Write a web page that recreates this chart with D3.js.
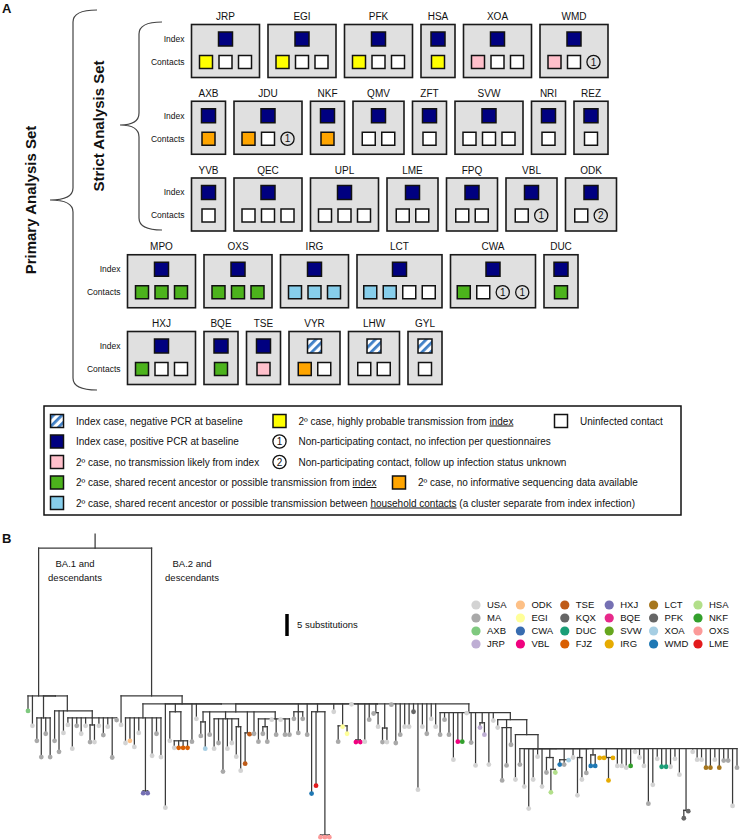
<!DOCTYPE html>
<html><head><meta charset="utf-8">
<script src="https://cdn.jsdelivr.net/npm/d3@7"></script>
<style>
body{margin:0;background:#fff}
svg{display:block}
text{font-family:"Liberation Sans",Arial,sans-serif;fill:#111}
</style>
</head><body>
<svg id="c" width="744" height="840"></svg>
<script>
// ---------------- DATA ----------------
const householdNames = ["JRP","EGI","PFK","HSA","XOA","WMD","AXB","JDU","NKF","QMV","ZFT","SVW","NRI","REZ","YVB","QEC","UPL","LME","FPQ","VBL","ODK","MPO","OXS","IRG","LCT","CWA","DUC","HXJ","BQE","TSE","VYR","LHW","GYL"];
const householdRow   = [0,0,0,0,0,0, 1,1,1,1,1,1,1,1, 2,2,2,2,2,2,2, 3,3,3,3,3,3, 4,4,4,4,4,4];
const indexPCR       = ["+","+","+","+","+","+", "+","+","+","+","+","+","+","+", "+","+","+","+","+","+","+", "+","+","+","+","+","+", "+","+","+","-","-","-"];
const contactStatus  = ["YWW","YWW","YWW","Y","PWW","PW1", "O","OW1","O","WW","W","WWW","W","W", "W","WWW","WWW","WW","WW","W1","W2", "GGG","GGG","BBB","BBWW","GW11","G", "GWW","G","P","OW","WW","W"];

const legendCodes  = ["N","Y","W","I","1","P","2","G","O","B"];
const legendLabels = [
  "Index case, negative PCR at baseline",
  "2º case, highly probable transmission from _index_",
  "Uninfected contact",
  "Index case, positive PCR at baseline",
  "Non-participating contact, no infection per questionnaires",
  "2º case, no transmission likely from index",
  "Non-participating contact, follow up infection status unknown",
  "2º case, shared recent ancestor or possible transmission from _index_",
  "2º case, no informative sequencing data available",
  "2º case, shared recent ancestor or possible transmission between _household contacts_ (a cluster separate from index infection)"
];

const lineageNames  = ["USA","MA","AXB","JRP","ODK","EGI","CWA","VBL","TSE","KQX","DUC","FJZ","HXJ","BQE","SVW","IRG","LCT","PFK","XOA","WMD","HSA","NKF","OXS","LME"];
const lineageColors = ["#d3d3d3","#a9a9a9","#7fc97f","#beaed4","#fdc086","#ffff99","#386cb0","#f0027f","#bf5b17","#666666","#1b9e77","#d95f02","#7570b3","#e7298a","#66a61e","#e6ab02","#a6761d","#666666","#a6cee3","#1f78b4","#b2df8a","#33a02c","#fb9a99","#e31a1c"];

const cladeLabels = ["BA.1 and|descendants","BA.2 and|descendants"];
const scaleBarSubs = 5;

// phylogeny (branch lengths in substitutions)
const treeNewick =
"((AXB:3.4,USA:6.8,((MA:5.2,MA:8.9,MA:3.6,MA:8.9):5,(MA:6.8,MA:9.3,USA:5,(USA:1.6,USA:7,MA:1.8,USA:3.6,USA:1.8,(MA:3.9,USA:3.9):1.6,USA:1.8,MA:3.9,USA:2,MA:9,MA:0.5):1.6):3.4):0):33.6," +
"(USA:6.6,((USA:5.7,ODK:5.2,USA:6.6,USA:3.4,(HXJ:0.5,HXJ:0.5):16.6,USA:8.6,MA:3.6,USA:8.9):3.2," +
"(USA:23.6,(USA:6.6,(USA:1.6,FJZ:1.6,FJZ:1.6,FJZ:1.6):6.6):1.8,MA:8.6,USA:3.4," +
"(((MA:3.2,XOA:6.1):2.3,MA:5.2,(USA:6.8,MA:5.5,MA:12,USA:6.8,USA:5.5,(USA:6.8,USA:10):1.8):1.6,(TSE:7,TSE:0.3):4.8,MA:5,(MA:5.2,(MA:1.6,MA:3.4):1.8,USA:0.2,MA:3.6,USA:0.2,MA:3.6,MA:3.6):1.6):1.8," +
"(MA:1.6,MA:4.8,MA:1.6):1.8,MA:7,(WMD:18.6,LME:16.8,(OXS:0.5,OXS:0.5,OXS:0.5):28):1.8,USA:1.8,(MA:3.6,EGI:0.2,EGI:1.8):5,USA:0.1,(VBL:0.5,VBL:0.5):8.2," +
"USA:8.6,MA:3.6,(MA:0.2,USA:3.2):2,(MA:3.2,USA:3.2):5.5,MA:0.2,MA:8.9,MA:7,USA:5.2,USA:5.2,KQX:1.8,USA:19.5,USA:5.2,MA:6.8,USA:3.4,USA:5.2," +
"(MA:5,MA:1.6,MA:5,USA:10.7,VBL:6.6,NKF:6.6,USA:0.1,MA:6.8,USA:12,(JRP:1.1,JRP:2.7):2.3,USA:11.8,USA:1.8," +
"(USA:1.8,(MA:12,MA:8.6,MA:3.9):1.8,(USA:10.2,(MA:3.6,(USA:8.6,(USA:13.6," +
"(USA:7,USA:1.8,USA:8.6,(MA:3.4,(HSA:5.2,HSA:0.7):2.7):2,(WMD:1.1,MA:1.1,XOA:0.1):2.5,USA:2,(USA:8.6,USA:5):2,MA:5.5,(WMD:2.5,WMD:2.5):1.4," +
"(IRG:0.1,IRG:0.1,IRG:5.2,IRG:0.1):2,USA:3.9,USA:3.9,USA:4.3,NKF:3.9,USA:0.7,USA:2,USA:3.9,MA:12.5,USA:8.2,USA:2.3,DUC:4.1,DUC:4.1,USA:4.1,USA:2.3,USA:5.9," +
"(KQX:1.8,KQX:0.2):14,USA:0.7,USA:2.5,USA:2.5,LCT:4.3,LCT:4.3,USA:2.5,LCT:4.3,MA:2.7,MA:2.7,USA:13,MA:4.3):0" +
"):0):0):3.2):3.4):1.6):2):0):0):1.8):33.6):3.2;";

// ---------------- DRAW ----------------
const svg = d3.select("#c");
const defs = svg.append("defs");
const pat = defs.append("pattern").attr("id","hatch").attr("patternUnits","userSpaceOnUse")
  .attr("width",6).attr("height",6).attr("patternTransform","rotate(-45)");
pat.append("rect").attr("width",6).attr("height",6).attr("fill","#fff");
pat.append("rect").attr("width",6).attr("height",2.8).attr("fill","#3f7fc6");

const fillFor = {Y:"#ffff00",P:"#ffc0cb",O:"#ffa500",G:"#4cb31c",B:"#87ceeb",W:"#ffffff",I:"#000080",N:"url(#hatch)"};

function marker(g, code, cx, cy, size, circleFill){
  if(code==="1"||code==="2"){
    g.append("circle").attr("cx",cx).attr("cy",cy).attr("r",6.6)
      .attr("fill",circleFill).attr("stroke","#111").attr("stroke-width",1.3);
    g.append("text").attr("x",cx).attr("y",cy).attr("dy","0.36em").attr("text-anchor","middle")
      .attr("font-size",10).text(code);
  } else {
    g.append("rect").attr("x",cx-size/2).attr("y",cy-size/2).attr("width",size).attr("height",size)
      .attr("fill",fillFor[code]).attr("stroke","#111").attr("stroke-width",1.5);
  }
}

// Panel letters
svg.append("text").attr("x",2).attr("y",13).attr("font-size",13).attr("font-weight","bold").text("A");
svg.append("text").attr("x",2).attr("y",543).attr("font-size",13).attr("font-weight","bold").text("B");

// Households
const unit = d3.scaleLinear().domain([0,1]).range([0,17]);
const rowTop = d3.scaleLinear().domain([0,4]).range([24.5,331.5]);
const rowStartX = [191.5,191.5,191.5,127.5,127.5];
const boxH = 53, boxGap = 8.5, itemStep = 19.5, sq = 13;
const gA = svg.append("g");
d3.range(5).forEach(r=>{
  const T = rowTop(r);
  gA.append("text").attr("x",rowStartX[r]-7).attr("y",T+14.5).attr("dy","0.35em")
    .attr("text-anchor","end").attr("font-size",8.5).text("Index");
  gA.append("text").attr("x",rowStartX[r]-7).attr("y",T+37.5).attr("dy","0.35em")
    .attr("text-anchor","end").attr("font-size",8.5).text("Contacts");
  let x = rowStartX[r];
  householdNames.forEach((name,i)=>{
    if(householdRow[i]!==r) return;
    const items = contactStatus[i].split("");
    const n = items.length;
    const w = unit(n+1);
    const g = gA.append("g");
    g.append("rect").attr("x",x).attr("y",T).attr("width",w).attr("height",boxH)
      .attr("fill","#e0e0e0").attr("stroke","#1a1a1a").attr("stroke-width",1.6);
    g.append("text").attr("x",x+w/2).attr("y",T-4.5).attr("text-anchor","middle")
      .attr("font-size",10).text(name);
    const cx = x+w/2;
    marker(g, indexPCR[i]==="+"?"I":"N", cx, T+14.5, 14, "none");
    items.forEach((c,k)=>{
      marker(g, c, cx+(k-(n-1)/2)*itemStep, T+37.5, sq, "none");
    });
    x += w + boxGap;
  });
});

// Braces
const braceStyle = s=>s.attr("fill","none").attr("stroke","#444").attr("stroke-width",1.2);
braceStyle(svg.append("path").attr("d","M97,10 Q73,10 73,22 L73,188 Q73,200 50,200 Q73,200 73,212 L73,378 Q73,390 97,390"));
braceStyle(svg.append("path").attr("d","M162,22 Q139,22 139,34 L139,113 Q139,125 120,125 Q139,125 139,137 L139,218 Q139,230 162,230"));
svg.append("text").attr("transform","translate(36,200) rotate(-90)").attr("text-anchor","middle")
  .attr("font-size",15).attr("font-weight","bold").text("Primary Analysis Set");
svg.append("text").attr("transform","translate(104,126) rotate(-90)").attr("text-anchor","middle")
  .attr("font-size",15).attr("font-weight","bold").text("Strict Analysis Set");

// Legend A
const legY = d3.scaleLinear().domain([0,4]).range([421,503]);
const legColX = [57,279.5,561,399];
const legSlots = [[0,0],[1,0],[2,0],[0,1],[1,1],[0,2],[1,2],[0,3],[3,3],[0,4]];
svg.append("rect").attr("x",44).attr("y",406).attr("width",637).attr("height",109)
  .attr("fill","#fff").attr("stroke","#111").attr("stroke-width",1.5);
const gL = svg.append("g");
legendCodes.forEach((code,i)=>{
  const [c,r] = legSlots[i];
  const mx = legColX[c], my = legY(r);
  marker(gL, code, mx, my, 13, "#fff");
  const t = gL.append("text").attr("x",mx+19).attr("y",my).attr("dy","0.35em").attr("font-size",10);
  legendLabels[i].split("_").forEach((seg,k)=>{
    if(!seg) return;
    const ts = t.append("tspan").text(seg);
    if(k%2===1) ts.attr("text-decoration","underline");
  });
});

// ---------------- TREE ----------------
function parseNewick(s){
  s = s.replace(/\s+/g,"");
  let i = 0;
  function node(){
    const n = {name:"",length:0,children:[]};
    if(s[i]==="("){
      i++;
      while(true){
        n.children.push(node());
        if(s[i]===","){ i++; continue; }
        break;
      }
      i++; // ')'
    }
    let name="";
    while(i<s.length && !",():;".includes(s[i])) name+=s[i++];
    n.name=name;
    if(s[i]===":"){
      i++; let num="";
      while(i<s.length && !",();".includes(s[i])) num+=s[i++];
      n.length=+num;
    }
    if(!n.children.length) delete n.children;
    return n;
  }
  return node();
}
const root = d3.hierarchy(parseNewick(treeNewick));
root.each(n=>{ n.dist = (n.parent?n.parent.dist:0) + n.data.length; });
const leaves = root.leaves();
const xTree = d3.scalePoint().domain(d3.range(leaves.length)).range([28,737]);
leaves.forEach((l,i)=>{ l.x = xTree(i); });
root.eachAfter(n=>{ if(n.children) n.x = d3.mean(n.children, c=>c.x); });
const yTree = d3.scaleLinear().domain([0,5]).range([534,556]);
const colorOf = d3.scaleOrdinal().domain(lineageNames).range(lineageColors);

const gT = svg.append("g").attr("stroke","#3a3a3a").attr("stroke-width",1.25).attr("stroke-linecap","square");
root.each(n=>{
  const y0 = n.parent ? yTree(n.parent.dist) : yTree(0);
  gT.append("line").attr("x1",n.x).attr("x2",n.x).attr("y1",y0).attr("y2",yTree(n.dist));
  if(n.children){
    const xs = n.children.map(c=>c.x);
    gT.append("line").attr("x1",d3.min(xs)).attr("x2",d3.max(xs)).attr("y1",yTree(n.dist)).attr("y2",yTree(n.dist));
  }
});
svg.append("g").selectAll("circle").data(leaves).join("circle")
  .attr("cx",d=>d.x).attr("cy",d=>yTree(d.dist)).attr("r",2.4)
  .attr("fill",d=>colorOf(d.data.name));

// clade labels
const cladeX = [75,192];
cladeLabels.forEach((lab,i)=>{
  lab.split("|").forEach((line,k)=>{
    svg.append("text").attr("x",cladeX[i]).attr("y",564+k*14).attr("dy","0.35em")
      .attr("text-anchor","middle").attr("font-size",9.5).text(line);
  });
});

// scale bar
const barTop = 614;
svg.append("line").attr("x1",287).attr("x2",287).attr("y1",barTop)
  .attr("y2",barTop + yTree(scaleBarSubs) - yTree(0)).attr("stroke","#000").attr("stroke-width",3.5);
svg.append("text").attr("x",297).attr("y",barTop + (yTree(scaleBarSubs)-yTree(0))/2).attr("dy","0.35em")
  .attr("font-size",9.5).text(scaleBarSubs + " substitutions");

// lineage legend
const lgX = d3.scaleLinear().domain([0,5]).range([476,698]);
const lgY = d3.scaleLinear().domain([0,3]).range([605,644]);
const gLeg = svg.append("g");
lineageNames.forEach((nm,i)=>{
  const c = Math.floor(i/4), r = i%4;
  gLeg.append("circle").attr("cx",lgX(c)).attr("cy",lgY(r)).attr("r",4.6).attr("fill",lineageColors[i]);
  gLeg.append("text").attr("x",lgX(c)+11).attr("y",lgY(r)).attr("dy","0.35em").attr("font-size",9.5).text(nm);
});
</script>
</body></html>
